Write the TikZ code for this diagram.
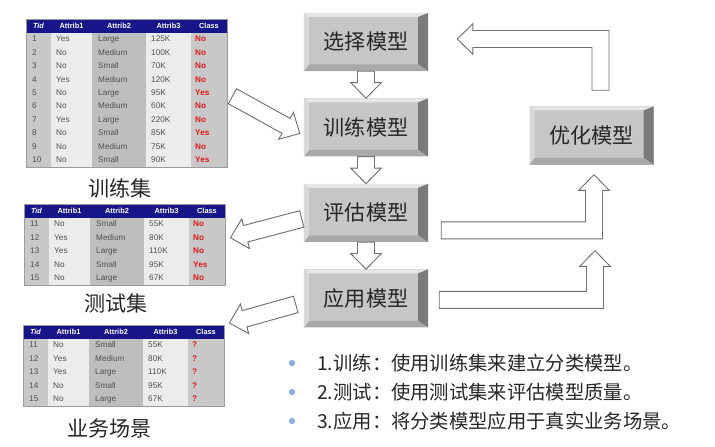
\documentclass[tikz,border=0pt]{standalone}
\usepackage{fontspec}
\setmainfont{Liberation Sans}
\newfontfamily\cjk{Noto Sans CJK SC}
\usepackage{tikz}
\usetikzlibrary{positioning,calc}
\definecolor{headblue}{RGB}{22,22,138}
\definecolor{tidgray}{RGB}{200,200,200}
\definecolor{lightcol}{RGB}{236,236,236}
\definecolor{midgray}{RGB}{190,190,190}
\definecolor{classred}{RGB}{228,24,24}
\definecolor{inkgray}{RGB}{80,80,80}
\definecolor{boxface}{RGB}{198,198,198}
\definecolor{bevtop}{RGB}{230,230,230}
\definecolor{bevleft}{RGB}{216,216,216}
\definecolor{bevright}{RGB}{122,122,122}
\definecolor{bevbottom}{RGB}{168,168,168}
\definecolor{arrowline}{RGB}{112,112,112}
\definecolor{bulletblue}{RGB}{140,175,225}
\tikzset{bevel/.style={path picture={
  \fill[bevtop] (path picture bounding box.north west) -- (path picture bounding box.north east) -- ++(-3mm,-1.2mm) -- ($(path picture bounding box.north west)+(1.5mm,-1.2mm)$) -- cycle;
  \fill[bevright] (path picture bounding box.north east) -- (path picture bounding box.south east) -- ++(-3mm,2mm) -- ($(path picture bounding box.north east)+(-3mm,-1.2mm)$) -- cycle;
  \fill[bevbottom] (path picture bounding box.south west) -- (path picture bounding box.south east) -- ++(-3mm,2mm) -- ($(path picture bounding box.south west)+(1.5mm,2mm)$) -- cycle;
  \fill[bevleft] (path picture bounding box.north west) -- (path picture bounding box.south west) -- ++(1.5mm,2mm) -- ($(path picture bounding box.north west)+(1.5mm,-1.2mm)$) -- cycle;
}}}
\tikzstyle{modelbox} = [inner sep=0pt, minimum width=37.2mm, minimum height=17.4mm, fill=boxface, bevel, text=black!85, font=\cjk\fontsize{18pt}{18pt}\selectfont]
\tikzstyle{hollowarrow} = [draw=arrowline, fill=white, line width=0.8pt, line join=miter]
\tikzstyle{cell} = [anchor=west, inner sep=0pt, text height=1.8mm, text depth=0.5mm, text=inkgray, font=\fontsize{7pt}{7pt}\selectfont]
\tikzstyle{classcell} = [cell, text=classred, font=\bfseries\fontsize{7pt}{7pt}\selectfont]
\tikzstyle{headcell} = [inner sep=0pt, text height=1.7mm, text depth=0.4mm, text=white, font=\bfseries\fontsize{6.3pt}{6.3pt}\selectfont]
\tikzstyle{setlabel} = [inner sep=0pt, text=black!85, font=\cjk\fontsize{18pt}{18pt}\selectfont]
\tikzstyle{note} = [anchor=west, inner sep=0pt, text=black!85, font=\cjk\fontsize{16.5pt}{16.5pt}\selectfont]
\tikzstyle{bullet} = [circle, fill=bulletblue, inner sep=0pt, minimum size=1.9mm]
\def\bas{2.55mm}
\def\bah{4.6mm}
\def\baL{4.7mm}
\newcommand{\blockarrow}[2]{%
  \coordinate (ba-neck) at ($(#2)!\baL!(#1)$);
  \draw[hollowarrow] ($(#1)!\bas!90:(#2)$) -- ($(ba-neck)!\bas!90:(#2)$) -- ($(ba-neck)!\bah!90:(#2)$) -- (#2)
    -- ($(ba-neck)!\bah!-90:(#2)$) -- ($(ba-neck)!\bas!-90:(#2)$) -- ($(#1)!\bas!-90:(#2)$) -- cycle;}
\newcommand{\elbowup}[2]{%
  \draw[hollowarrow] let \p1=(#1), \p2=(#2) in
    (\x1,{\y1+\bas}) -- ({\x2-\bas},{\y1+\bas}) -- ({\x2-\bas},{\y2-\baL}) -- ({\x2-\bah},{\y2-\baL}) -- (\x2,\y2)
    -- ({\x2+\bah},{\y2-\baL}) -- ({\x2+\bas},{\y2-\baL}) -- ({\x2+\bas},{\y1-\bas}) -- (\x1,{\y1-\bas}) -- cycle;}
\newcommand{\elbowleft}[2]{%
  \draw[hollowarrow] let \p1=(#1), \p2=(#2) in
    ({\x1-\bas},\y1) -- ({\x1-\bas},{\y2-\bas}) -- ({\x2+\baL},{\y2-\bas}) -- ({\x2+\baL},{\y2-\bah}) -- (\x2,\y2)
    -- ({\x2+\baL},{\y2+\bah}) -- ({\x2+\baL},{\y2+\bas}) -- ({\x1+\bas},{\y2+\bas}) -- ({\x1+\bas},\y1) -- cycle;}
\newcommand{\datatable}[4]{%
  \pgfmathsetmacro{\tabh}{14+#3*13.4}
  \node[inner sep=0pt, minimum width=60.3mm, minimum height=\tabh*0.3mm, anchor=north west] (#1) at #2 {};
  \begin{scope}[shift={(#1.north west)}]
    \fill[tidgray] (0,14) rectangle (25,\tabh);
    \fill[lightcol] (25,14) rectangle (66,\tabh);
    \fill[midgray] (66,14) rectangle (120,\tabh);
    \fill[lightcol] (120,14) rectangle (165,\tabh);
    \fill[tidgray] (165,14) rectangle (201,\tabh);
    \fill[headblue] (0,0) rectangle (201,14);
    \node[headcell] (#1-h1) at (12.5,7) {\itshape Tid};
    \node[headcell] (#1-h2) at (45.5,7) {Attrib1};
    \node[headcell] (#1-h3) at (93,7) {Attrib2};
    \node[headcell] (#1-h4) at (142.5,7) {Attrib3};
    \node[headcell] (#1-h5) at (183,7) {Class};
    \foreach \tid/\aa/\bb/\cc/\cls [count=\r] in {#4} {
      \pgfmathsetmacro{\yy}{14+(\r-0.5)*13.4}
      \node[cell] (#1-\r-1) at (6,\yy) {\tid};
      \node[cell] (#1-\r-2) at (30,\yy) {\aa};
      \node[cell] (#1-\r-3) at (72,\yy) {\bb};
      \node[cell] (#1-\r-4) at (125,\yy) {\cc};
      \node[classcell] (#1-\r-5) at (169,\yy) {\cls};
    }
    \draw[arrowline!70, line width=0.6pt] (0,0) rectangle (201,\tabh);
  \end{scope}}

\begin{document}
\begin{tikzpicture}[x=0.03cm, y=-0.03cm]
  \useasboundingbox (0,0) rectangle (715,447);
  \datatable{trainset}{(26,19)}{10}{1/Yes/Large/125K/No, 2/No/Medium/100K/No, 3/No/Small/70K/No, 4/Yes/Medium/120K/No, 5/No/Large/95K/Yes,
    6/No/Medium/60K/No, 7/Yes/Large/220K/No, 8/No/Small/85K/Yes, 9/No/Medium/75K/No, 10/No/Small/90K/Yes}
  \datatable{testset}{(24,204)}{5}{11/No/Small/55K/No, 12/Yes/Medium/80K/No, 13/Yes/Large/110K/No, 14/No/Small/95K/Yes, 15/No/Large/67K/No}
  \datatable{scene}{(23,325)}{5}{11/No/Small/55K/?, 12/Yes/Medium/80K/?, 13/Yes/Large/110K/?, 14/No/Small/95K/?, 15/No/Large/67K/?}
  \node[setlabel] (trainlabel) at ($(trainset.south)+(-7,21)$) {训练集};
  \node[setlabel] (testlabel) at ($(testset.south)+(-9,18)$) {测试集};
  \node[setlabel] (scenelabel) at ($(scene.south)+(-14,22)$) {业务场景};

  \node[modelbox] (select) at (366,42) {选择模型};
  \node[modelbox, below=8.1mm of select] (train) {训练模型};
  \node[modelbox, below=8.1mm of train] (eval) {评估模型};
  \node[modelbox, below=8.1mm of eval] (apply) {应用模型};
  \node[modelbox] (opt) at (591.5,135.5) {优化模型};

  \blockarrow{select.south}{train.north}
  \blockarrow{train.south}{eval.north}
  \blockarrow{eval.south}{apply.north}
  \coordinate (in1) at ($(trainset.east)+(5,3)$);
  \coordinate (in2) at ($(train.west)+(-4,6)$);
  \blockarrow{in1}{in2}
  \coordinate (out1) at ($(eval.west)+(-2,6)$);
  \coordinate (out2) at ($(testset.east)+(5,-7)$);
  \blockarrow{out1}{out2}
  \coordinate (use1) at ($(apply.west)+(-8,6)$);
  \coordinate (use2) at ($(scene.north east)+(5,-2)$);
  \blockarrow{use1}{use2}
  \elbowup{$(eval.east)+(13,17.5)$}{$(opt.south)+(2.5,10)$}
  \elbowup{$(apply.east)+(11,1.5)$}{$(opt.south)+(3.5,86)$}
  \elbowleft{$(opt.north)+(9,-16)$}{$(select.east)+(29,-3)$}

  \foreach \txt [count=\i] in {1.训练：使用训练集来建立分类模型。, 2.测试：使用测试集来评估模型质量。, 3.应用：将分类模型应用于真实业务场景。} {
    \node[note] (note\i) at (317,{334+29*\i}) {\txt};
    \node[bullet] (dot\i) at (292,{334+29*\i}) {};
  }
\end{tikzpicture}
\end{document}
